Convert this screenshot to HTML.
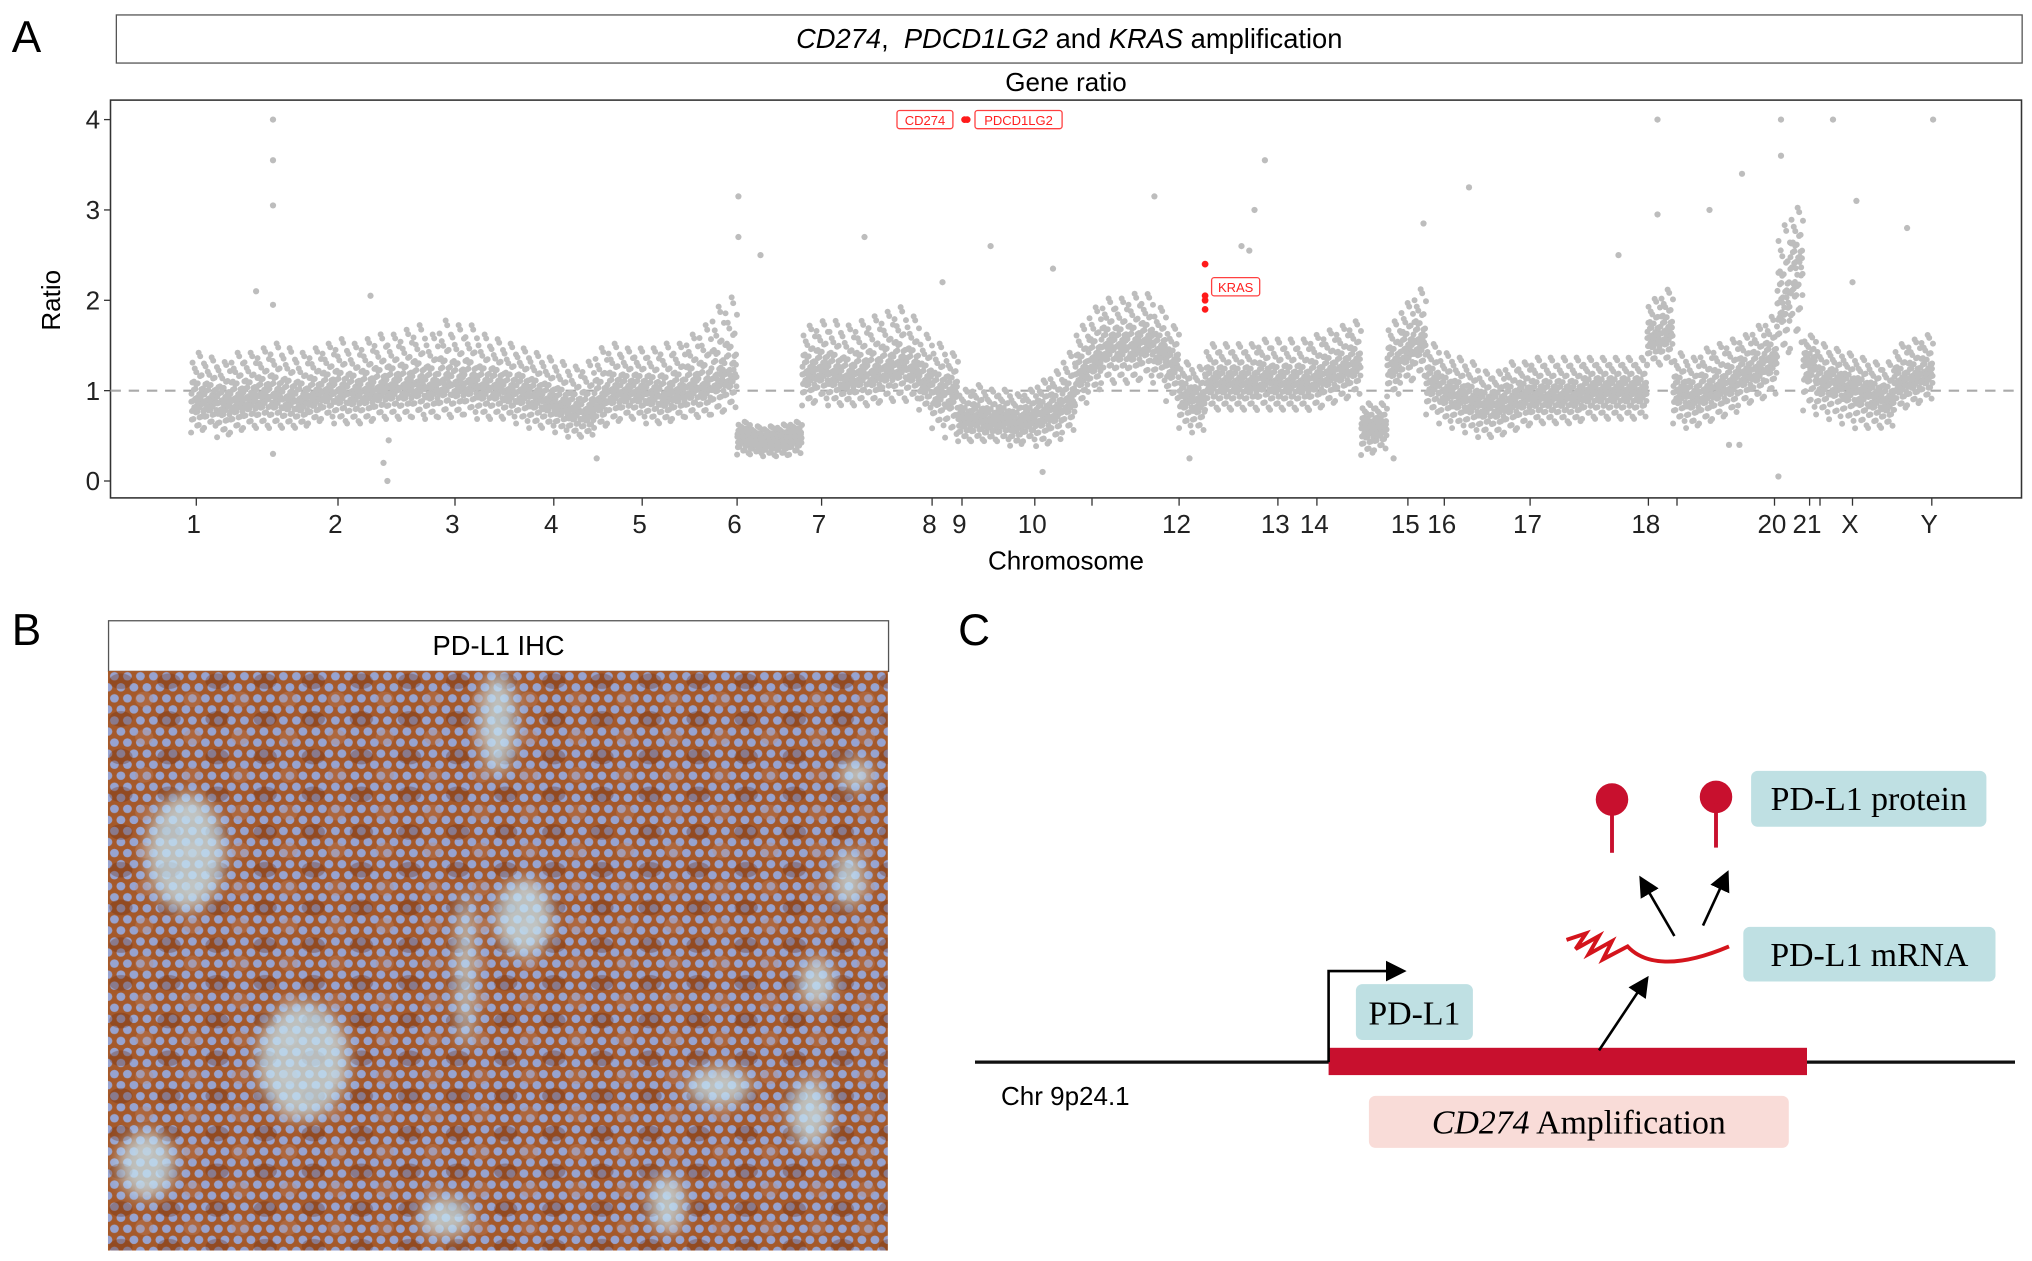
<!DOCTYPE html>
<html><head><meta charset="utf-8">
<style>
html,body{margin:0;padding:0;background:#fff;}
body{width:2032px;height:1260px;overflow:hidden;position:relative;}
#wrap{position:absolute;left:0;top:0;width:1563px;height:970px;transform:scale(1.3);transform-origin:0 0;font-family:"Liberation Sans",sans-serif;}
.abs{position:absolute;}
.serif{font-family:"Liberation Serif",serif;}
</style></head>
<body>
<div id="wrap">
<div class="abs" style="left:9px;top:10px;font-size:34px;">A</div>
<div class="abs" style="left:89px;top:11px;width:1467px;height:38px;border:1px solid #555;box-sizing:border-box;text-align:center;line-height:38px;font-size:21px;"><i>CD274</i>,&nbsp; <i>PDCD1LG2</i> and <i>KRAS</i> amplification</div>
<svg class="abs" style="left:0;top:0" width="1563" height="460" id="chart"></svg>

<div class="abs" style="left:9px;top:466px;font-size:34px;">B</div>
<div class="abs" style="left:83px;top:477px;width:601px;height:40px;border:1px solid #555;box-sizing:border-box;text-align:center;line-height:40px;font-size:21px;">PD-L1 IHC</div>
<svg class="abs" style="left:83px;top:516px" width="600" height="446">
<defs>
<pattern id="cells" width="10" height="17" patternUnits="userSpaceOnUse">
<rect width="10" height="17" fill="#a5592a"/>
<ellipse cx="5" cy="4.2" rx="3.4" ry="3.3" fill="#97a3d0"/>
<ellipse cx="0" cy="12.7" rx="3.4" ry="3.3" fill="#97a3d0"/>
<ellipse cx="10" cy="12.7" rx="3.4" ry="3.3" fill="#97a3d0"/>
</pattern>
<pattern id="mottle" width="37" height="29" patternUnits="userSpaceOnUse">
<ellipse cx="10" cy="8" rx="9" ry="6" fill="#6e2f12" opacity="0.35"/>
<ellipse cx="28" cy="22" rx="7" ry="6" fill="#c38a6a" opacity="0.3"/>
</pattern>
<filter id="blur"><feGaussianBlur stdDeviation="6"/></filter>
</defs>
<rect width="600" height="446" fill="url(#cells)"/>
<rect width="600" height="446" fill="url(#mottle)"/>
<g fill="#c6e3f0" filter="url(#blur)" opacity="0.75">
<ellipse cx="300" cy="40" rx="14" ry="40"/>
<ellipse cx="320" cy="190" rx="22" ry="30"/>
<ellipse cx="275" cy="230" rx="7" ry="60"/>
<ellipse cx="60" cy="140" rx="30" ry="45"/>
<ellipse cx="150" cy="300" rx="35" ry="45"/>
<ellipse cx="470" cy="320" rx="25" ry="15"/>
<ellipse cx="545" cy="240" rx="14" ry="18"/>
<ellipse cx="430" cy="410" rx="14" ry="22"/>
<ellipse cx="575" cy="80" rx="12" ry="12"/>
<ellipse cx="540" cy="340" rx="16" ry="26"/>
<ellipse cx="260" cy="420" rx="20" ry="16"/>
<ellipse cx="30" cy="380" rx="22" ry="26"/>
<ellipse cx="570" cy="160" rx="12" ry="22"/>
</g>
</svg>

<div class="abs" style="left:737px;top:466px;font-size:34px;">C</div>
<svg class="abs" style="left:700px;top:560px" width="863" height="340">
<defs><marker id="ah" markerWidth="8" markerHeight="8" refX="6" refY="4" orient="auto"><path d="M0,0 L8,4 L0,8 z" fill="#000"/></marker></defs>
<line x1="50" y1="257" x2="850" y2="257" stroke="#111" stroke-width="2.5"/>
<rect x="322" y="246" width="368" height="21" fill="#c8102e"/>
<polyline points="322,257 322,187 378,187" fill="none" stroke="#000" stroke-width="2" marker-end="url(#ah)"/>
<line x1="530" y1="248" x2="566" y2="194" stroke="#000" stroke-width="2" marker-end="url(#ah)"/>
<path d="M505,163 L520,158 L512,170 L530,160 L522,174 L540,164 L533,178 L552,168 C565,182 590,185 630,168" fill="none" stroke="#d4141c" stroke-width="3"/>
<line x1="588" y1="160" x2="563" y2="117" stroke="#000" stroke-width="2" marker-end="url(#ah)"/>
<line x1="610" y1="152" x2="628" y2="113" stroke="#000" stroke-width="2" marker-end="url(#ah)"/>
<g fill="#c8102e" stroke="#c8102e">
<circle cx="540" cy="55" r="12"/><line x1="540" y1="60" x2="540" y2="96" stroke-width="3"/>
<circle cx="620" cy="53" r="12"/><line x1="620" y1="58" x2="620" y2="92" stroke-width="3"/>
</g>
<text x="70" y="290" font-size="20" font-family="Liberation Sans, sans-serif">Chr 9p24.1</text>
</svg>
<div class="abs serif" style="left:1043px;top:757px;width:90px;height:43px;background:#bfe0e3;border-radius:5px;text-align:center;line-height:46px;font-size:26px;">PD-L1</div>
<div class="abs serif" style="left:1347px;top:593px;width:181px;height:43px;background:#bfe0e3;border-radius:5px;text-align:center;line-height:44px;font-size:26px;">PD-L1 protein</div>
<div class="abs serif" style="left:1341px;top:713px;width:194px;height:42px;background:#bfe0e3;border-radius:5px;text-align:center;line-height:44px;font-size:26px;">PD-L1 mRNA</div>
<div class="abs serif" style="left:1053px;top:843px;width:323px;height:40px;background:#f9dcd8;border-radius:5px;text-align:center;line-height:42px;font-size:26px;"><i>CD274</i> Amplification</div>
</div>
<script>
// genome position units (0..1470 across plot)
const chromNames=["1","2","3","4","5","6","7","8","9","10","","12","13","14","15","16","17","18","","20","21","","X","Y"];
const chromTicks=[66,175,265,341,409,482,547,632,655,711,755,822,898,928,998,1026,1092,1183,1205,1280,1307,1315,1340,1401];
const yTicks=[0,1,2,3,4];
const binPos=[67,77,87,97,107,117,127,137,147,157,167,177,187,197,207,217,227,237,247,257,267,277,287,297,307,317,327,337,347,357,367,377,387,397,407,417,427,437,447,457,467,477,487,497,507,517,527,537,547,557,567,577,587,597,607,617,627,637,647,657,667,677,687,697,707,717,727,737,747,757,767,777,787,797,807,817,827,837,847,857,867,877,887,897,907,917,927,937,947,957,967,977,987,997,1007,1017,1027,1037,1047,1057,1067,1077,1087,1097,1107,1117,1127,1137,1147,1157,1167,1177,1187,1197,1207,1217,1227,1237,1247,1257,1267,1277,1287,1297,1307,1317,1327,1337,1347,1357,1367,1377,1387,1397];
const binMean=[0.9,0.9,0.88,0.9,0.92,0.95,0.95,0.92,0.9,0.95,1.0,1.0,0.98,1.0,1.02,1.05,1.05,1.08,1.05,1.1,1.08,1.1,1.05,1.05,1.0,1.0,0.95,0.9,0.85,0.8,0.78,0.9,1.0,1.0,1.0,0.98,0.95,1.0,1.05,1.05,1.15,1.2,0.5,0.45,0.45,0.45,0.5,1.2,1.25,1.2,1.15,1.2,1.2,1.25,1.3,1.25,1.1,1.0,1.0,0.7,0.72,0.68,0.7,0.65,0.7,0.75,0.8,0.9,1.2,1.35,1.5,1.5,1.5,1.55,1.45,1.3,0.95,0.9,1.1,1.1,1.1,1.1,1.15,1.1,1.1,1.1,1.15,1.2,1.25,1.3,0.6,0.6,1.3,1.45,1.55,1.1,1.0,0.95,0.9,0.85,0.85,0.9,0.95,0.95,0.95,0.95,0.95,1.0,1.0,1.0,1.0,1.0,1.6,1.65,1.0,0.95,1.0,1.05,1.1,1.2,1.25,1.35,2.0,2.4,1.3,1.1,1.1,1.05,1.0,0.95,0.9,1.1,1.15,1.2,1.25];
const binLow=[0.55,0.6,0.5,0.55,0.6,0.6,0.6,0.6,0.6,0.65,0.7,0.65,0.65,0.65,0.7,0.7,0.7,0.72,0.7,0.72,0.72,0.75,0.7,0.7,0.7,0.65,0.6,0.6,0.55,0.5,0.5,0.6,0.65,0.7,0.7,0.65,0.65,0.7,0.72,0.72,0.75,0.8,0.3,0.3,0.28,0.28,0.3,0.85,0.9,0.85,0.85,0.85,0.85,0.9,0.9,0.9,0.8,0.6,0.5,0.45,0.45,0.45,0.45,0.4,0.45,0.4,0.45,0.55,0.85,1.0,1.1,1.1,1.1,1.15,1.1,0.9,0.6,0.55,0.8,0.8,0.8,0.8,0.8,0.8,0.8,0.8,0.8,0.85,0.9,0.95,0.3,0.35,0.95,1.1,1.15,0.75,0.65,0.6,0.55,0.5,0.5,0.55,0.6,0.65,0.65,0.65,0.65,0.7,0.7,0.7,0.7,0.7,1.3,1.3,0.65,0.6,0.65,0.7,0.75,0.85,0.9,0.95,1.4,1.5,0.8,0.75,0.7,0.65,0.6,0.6,0.6,0.8,0.85,0.9,0.9];
const binHigh=[1.4,1.35,1.3,1.4,1.4,1.45,1.5,1.45,1.4,1.45,1.5,1.55,1.5,1.55,1.6,1.6,1.65,1.7,1.6,1.75,1.7,1.7,1.6,1.55,1.5,1.45,1.4,1.35,1.3,1.25,1.3,1.45,1.5,1.45,1.45,1.45,1.5,1.5,1.6,1.7,1.9,2.0,0.65,0.6,0.6,0.62,0.65,1.7,1.75,1.75,1.7,1.75,1.8,1.85,1.9,1.8,1.6,1.5,1.4,1.0,1.05,1.0,1.0,0.95,1.0,1.1,1.2,1.4,1.7,1.9,2.0,2.0,2.05,2.05,1.9,1.7,1.3,1.25,1.5,1.5,1.5,1.5,1.55,1.55,1.55,1.55,1.6,1.65,1.7,1.75,0.85,0.85,1.75,1.95,2.1,1.5,1.4,1.35,1.3,1.2,1.2,1.3,1.3,1.35,1.35,1.35,1.35,1.35,1.35,1.35,1.35,1.35,2.0,2.1,1.4,1.35,1.45,1.5,1.55,1.6,1.7,1.8,2.8,3.0,1.6,1.5,1.45,1.4,1.35,1.3,1.3,1.5,1.55,1.6,1.65];
const outPos=[125,125,125,125,112,125,213,210,214,483,483,500,580,677,725,803,888,880,876,1190,1285,1285,1255,1325,1402,1343,1382,1045,1010,717,1283,1245,1253,987,374,830,200,640,870,1160,1190,1340,1230];
const outVal=[4,3.55,3.05,1.95,2.1,0.3,0,0.2,0.45,3.15,2.7,2.5,2.7,2.6,2.35,3.15,3.55,3.0,2.55,4,4,3.6,3.4,4,4,3.1,2.8,3.25,2.85,0.1,0.05,0.4,0.4,0.25,0.25,0.25,2.05,2.2,2.6,2.5,2.95,2.2,3.0];
const redPos=[657,659,842,842,842,842];
const redVal=[4,4,2.4,2.05,2.0,1.9];

const NS="http://www.w3.org/2000/svg";
const svg=document.getElementById('chart');
const PL=85,PR=1555,PT=77,PB=383;
function xs(g){return PL+g;}
function ys(v){return 370-v*69.5;}
function mk(tag,attrs,parent){const e=document.createElementNS(NS,tag);for(const k in attrs)e.setAttribute(k,attrs[k]);(parent||svg).appendChild(e);return e;}

const gt=mk('text',{x:820,y:70,'text-anchor':'middle','font-size':20});
gt.textContent='Gene ratio';


const frame=mk('rect',{x:PL,y:PT,width:PR-PL,height:PB-PT,fill:'none',stroke:'#333','stroke-width':1.2});


const ref=mk('line',{x1:PL,x2:PR,y1:ys(1),y2:ys(1),stroke:'#aaa','stroke-width':1.6,'stroke-dasharray':'8,6'});



const pts=mk('g',{fill:'#bdbdbd'});


// quantile layout of points within a bin (layout, not data)
const q=[-1,-0.8,-0.65,-0.52,-0.42,-0.34,-0.27,-0.2,-0.14,-0.09,-0.04,0,0.04,0.09,0.14,0.2,0.27,0.34,0.42,0.52,0.65,0.8,1,-0.3];
for(let i=0;i<binPos.length;i++){
  const m=binMean[i],lo=binLow[i],hi=binHigh[i];
  for(let k=0;k<48;k++){
    const f=q[(k*7)%24]+((k%5)-2)*0.02;
    const v=f<0?m+f*(m-lo):m+f*(hi-m);
    const gx=binPos[i]-5+((k*3.7)%10);
    const p=mk('circle',{cx:xs(gx),cy:ys(v),r:2.3},pts);
    
    
  }
}
for(let i=0;i<outPos.length;i++){
  const p=mk('circle',{cx:xs(outPos[i]),cy:ys(outVal[i]),r:2.4,fill:'#bdbdbd'});
  
  
}
for(let i=0;i<redPos.length;i++){
  const p=mk('circle',{cx:xs(redPos[i]),cy:ys(redVal[i]),r:2.6,fill:'#ff1a1a'});
  
  
}
function lab(txt,x,y,w,name){
  const g=mk('g',{});
  
  
  mk('rect',{x:x,y:y-7,width:w,height:14,rx:2,fill:'#fff',stroke:'#ff4040','stroke-width':1},g);
  const t=mk('text',{x:x+w/2,y:y+4,'text-anchor':'middle','font-size':10,fill:'#ff2020'},g);
  t.textContent=txt;
}
lab('CD274',xs(redPos[0])-52,ys(redVal[0]),43,'cd274-label');
lab('PDCD1LG2',xs(redPos[1])+6,ys(redVal[1]),67,'pdcd1lg2-label');
lab('KRAS',xs(redPos[2])+5,ys(2.15),37,'kras-label');

for(const v of yTicks){
  mk('line',{x1:PL-5,x2:PL,y1:ys(v),y2:ys(v),stroke:'#333'});
  const t=mk('text',{x:PL-8,y:ys(v)+7,'text-anchor':'end','font-size':20,fill:'#222'});
  t.textContent=v;
  
  
}
for(let i=0;i<chromTicks.length;i++){
  mk('line',{x1:xs(chromTicks[i]),x2:xs(chromTicks[i]),y1:PB,y2:PB+6,stroke:'#333'});
  const t=mk('text',{x:xs(chromTicks[i])-2,y:410,'text-anchor':'middle','font-size':20,fill:'#222'});
  t.textContent=chromNames[i];
  
  
}
const yt=mk('text',{x:0,y:0,'text-anchor':'middle','font-size':20,transform:'translate(46,231) rotate(-90)'});
yt.textContent='Ratio';


const xt=mk('text',{x:820,y:438,'text-anchor':'middle','font-size':20});
xt.textContent='Chromosome';


</script>
</body></html>
